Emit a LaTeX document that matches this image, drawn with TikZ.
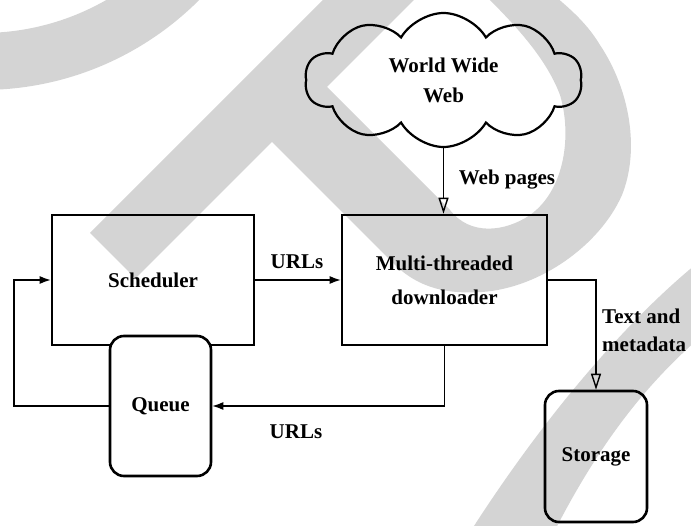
\documentclass[tikz,border=0pt]{standalone}
\usepackage{fontspec}
\setmainfont{Liberation Serif}
\usetikzlibrary{shapes.symbols,arrows.meta}
\definecolor{wmgray}{RGB}{212,212,212}
\begin{document}
\begin{tikzpicture}[x=1pt,y=-1pt,
  every node/.style={font=\fontsize{21}{30}\selectfont\bfseries},
  box/.style={draw, line width=2.6pt, inner sep=0pt},
  roundbox/.style={box, rounded corners=14pt},
  link/.style={line width=1.4pt},
  solidhead/.style={-{Latex[length=11pt,width=8pt]}},
  openhead/.style={-{Triangle[open,length=16pt,width=10pt,line width=1.4pt]}},
  lbl/.style={inner sep=0pt}]
\useasboundingbox (0,0) rectangle (691,526);

% background watermark strokes
\begin{scope}
  \clip (0,0) rectangle (691,526);
  \fill[wmgray, even odd rule] (-18,-217) circle[radius=307] (-18,-217) circle[radius=250];
  \fill[wmgray] (90,233) -- (135.5,278.5) -- (435.5,-21.5) -- (390,-67) -- cycle;
  \fill[wmgray] (250,120) -- (393,263)
     .. controls (420,290) and (450,294) .. (482,292)
     .. controls (540,288) and (600,245) .. (622,195)
     .. controls (640,150) and (630,90) .. (600,45)
     .. controls (585,20) and (565,5) .. (548,-10)
     -- (480,-10)
     .. controls (510,20) and (545,55) .. (560,95)
     .. controls (572,135) and (565,190) .. (530,215)
     .. controls (505,232) and (470,236) .. (450,210)
     -- (300,60) -- cycle;
  \fill[wmgray] (705,257) .. controls (650,300) and (560,390) .. (465,540)
     -- (550,540) .. controls (600,440) and (650,380) .. (705,333) -- cycle;
\end{scope}

% components
\node[cloud, draw, line width=2.2pt, cloud puffs=10, cloud puff arc=120,
      aspect=2.07, minimum width=277pt, minimum height=134pt, inner sep=0pt,
      align=center] (www) at (443.5,80) {World Wide\\Web};
\node[box, minimum width=202pt, minimum height=130pt] (sched) at (153,280) {Scheduler};
\node[box, minimum width=205pt, minimum height=130pt, align=center,
      font=\fontsize{21}{34}\selectfont\bfseries] (dl) at (444.5,280) {Multi-threaded\\downloader};
\node[roundbox, fill=white, minimum width=101pt, minimum height=140pt] (queue) at (160.5,406) {Queue};
\node[roundbox, minimum width=102pt, minimum height=131pt] (store) at (596,456.5) {Storage};

% data flow
\draw[link, openhead] (www.south) -- (www.south |- dl.north);
\draw[link, solidhead] (sched.east) -- (dl.west);
\draw[link, solidhead] (dl.south) |- (queue.east);
\coordinate (back) at (14,406);
\draw[link, solidhead] (queue.west) -- (back) |- (sched.west);
\draw[link, openhead] (dl.east) -| (store.north);

% labels
\node[lbl] (lweb) at (507,180) {Web pages};
\node[lbl] (lurl1) at (297,262) {URLs};
\node[lbl] (lurl2) at (296,432) {URLs};
\node[lbl, anchor=west, align=left, font=\fontsize{21}{28}\selectfont\bfseries] (ltext) at (602,330) {Text and\\metadata};
\end{tikzpicture}
\end{document}
